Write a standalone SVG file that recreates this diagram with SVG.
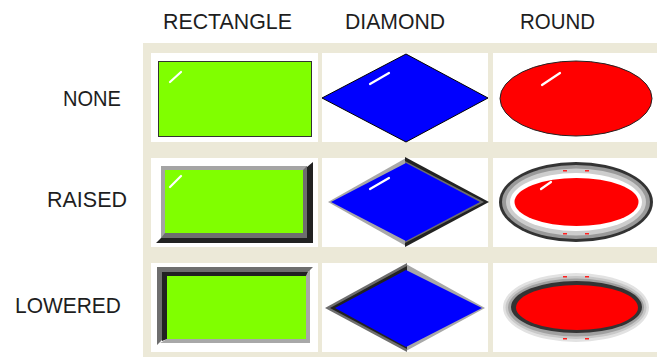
<svg xmlns="http://www.w3.org/2000/svg" width="657" height="357" viewBox="0 0 657 357">
  <style>
    .lbl { font-family: "Liberation Sans", Arial, sans-serif; font-size: 22px; fill: #1e1e1e; }
    .cell { fill: #ffffff; }
    .gloss { stroke: #ffffff; stroke-width: 2.2; stroke-linecap: round; fill: none; }
    .green { fill: #80ff00; }
    .blue { fill: #0000ff; }
    .red { fill: #ff0000; }
    .tick { fill: #ff2020; }
  </style>
  <rect width="657" height="357" fill="#ffffff"/>
  <rect x="143" y="43" width="514" height="314" fill="#ece9d8"/>

  <g id="headers">
    <text class="lbl" x="163" y="29" textLength="129" lengthAdjust="spacingAndGlyphs">RECTANGLE</text>
    <text class="lbl" x="345" y="29" textLength="100" lengthAdjust="spacingAndGlyphs">DIAMOND</text>
    <text class="lbl" x="520" y="29" textLength="75" lengthAdjust="spacingAndGlyphs">ROUND</text>
  </g>
  <g id="row-labels">
    <text class="lbl" x="63" y="106" textLength="58" lengthAdjust="spacingAndGlyphs">NONE</text>
    <text class="lbl" x="47" y="207" textLength="80" lengthAdjust="spacingAndGlyphs">RAISED</text>
    <text class="lbl" x="15" y="313" textLength="106" lengthAdjust="spacingAndGlyphs">LOWERED</text>
  </g>

  <!-- Row 1: NONE -->
  <g id="rect-none">
    <rect class="cell" x="151" y="53" width="167" height="89"/>
    <rect class="green" x="158.5" y="61.5" width="153" height="75" stroke="#333" stroke-width="1"/>
    <line class="gloss" x1="170" y1="82" x2="181" y2="72"/>
  </g>
  <g id="diamond-none">
    <rect class="cell" x="322" y="53" width="166" height="89"/>
    <polygon class="blue" points="406,54 488,98 406,142 322,98" stroke="#000" stroke-width="1"/>
    <line class="gloss" x1="370" y1="84" x2="389" y2="73"/>
  </g>
  <g id="round-none">
    <rect class="cell" x="493" y="53" width="164" height="89"/>
    <ellipse class="red" cx="576" cy="98.5" rx="76" ry="37.5" stroke="#222" stroke-width="1"/>
    <line class="gloss" x1="542" y1="85" x2="560" y2="73"/>
  </g>

  <!-- Row 2: RAISED -->
  <g id="rect-raised">
    <rect class="cell" x="151" y="158" width="167" height="89"/>
    <polygon points="313,162 313,243 156,243 161,238 307,238 307,167" fill="#222"/>
    <rect x="161" y="166" width="146" height="72" fill="#a4a4a4"/>
    <polygon points="307,166 307,238 161,238 165,233 303,233 303,170" fill="#6e6e6e"/>
    <rect class="green" x="165" y="170" width="138" height="63"/>
    <line class="gloss" x1="170" y1="187" x2="181" y2="176"/>
  </g>
  <g id="diamond-raised">
    <rect class="cell" x="322" y="158" width="166" height="89"/>
    <polygon points="406,158 406,246 328,202" fill="#a8a8a8"/>
    <polygon points="405,157 489,202 405,247" fill="#222"/>
    <polygon points="405,161 484,202 405,243" fill="#6e6e6e"/>
    <polygon class="blue" points="406,163 480,202 406,241 331,202"/>
    <line class="gloss" x1="370" y1="189" x2="389" y2="178"/>
  </g>
  <g id="round-raised">
    <rect class="cell" x="493" y="158" width="164" height="89"/>
    <ellipse cx="576" cy="202" rx="77" ry="40" fill="#333"/>
    <ellipse cx="576" cy="202" rx="74" ry="37" fill="#9a9a9a"/>
    <ellipse cx="576" cy="202" rx="70" ry="33.5" fill="#cdcdcd"/>
    <ellipse cx="576" cy="202" rx="66" ry="29" fill="#ffffff"/>
    <ellipse class="red" cx="576.5" cy="202" rx="62" ry="24"/>
    <rect class="tick" x="563" y="170" width="4" height="1.5"/>
    <rect class="tick" x="585" y="170" width="4" height="1.5"/>
    <rect class="tick" x="563" y="233" width="4" height="1.5"/>
    <rect class="tick" x="585" y="233" width="4" height="1.5"/>
    <line class="gloss" x1="541" y1="189" x2="551" y2="182"/>
  </g>

  <!-- Row 3: LOWERED -->
  <g id="rect-lowered">
    <rect class="cell" x="151" y="263" width="167" height="89"/>
    <polygon points="310,269 310,343 160,343 167,339 306,339 306,276" fill="#a8a8a8"/>
    <polygon points="157,267 313,267 308,272 162,272 162,340 157,345" fill="#6e6e6e"/>
    <polygon points="162,272 308,272 306,276 167,276 167,339 162,341" fill="#222"/>
    <rect class="green" x="167" y="276" width="139" height="63"/>
  </g>
  <g id="diamond-lowered">
    <rect class="cell" x="322" y="263" width="166" height="89"/>
    <polygon points="406,264 485,308 406,351" fill="#a8a8a8"/>
    <polygon points="407,263 407,352 325,308" fill="#6e6e6e"/>
    <polygon points="407,266 407,349 330,308" fill="#222"/>
    <polygon class="blue" points="406,270 482,308 406,347 335,308"/>
  </g>
  <g id="round-lowered">
    <rect class="cell" x="493" y="263" width="164" height="89"/>
    <ellipse cx="576" cy="307.5" rx="73" ry="34.5" fill="#e2e2e2"/>
    <ellipse cx="576" cy="307.5" rx="70.5" ry="31.5" fill="#c8c8c8"/>
    <ellipse cx="576" cy="307.5" rx="68" ry="29" fill="#a0a0a0"/>
    <ellipse cx="576.5" cy="307" rx="65.5" ry="26" fill="#333"/>
    <ellipse class="red" cx="577" cy="307.5" rx="61" ry="22.5"/>
    <rect class="tick" x="563" y="276" width="4" height="1.5"/>
    <rect class="tick" x="585" y="276" width="4" height="1.5"/>
    <rect class="tick" x="563" y="338" width="4" height="1.5"/>
    <rect class="tick" x="585" y="338" width="4" height="1.5"/>
  </g>
  <g id="connectors"/>
</svg>
